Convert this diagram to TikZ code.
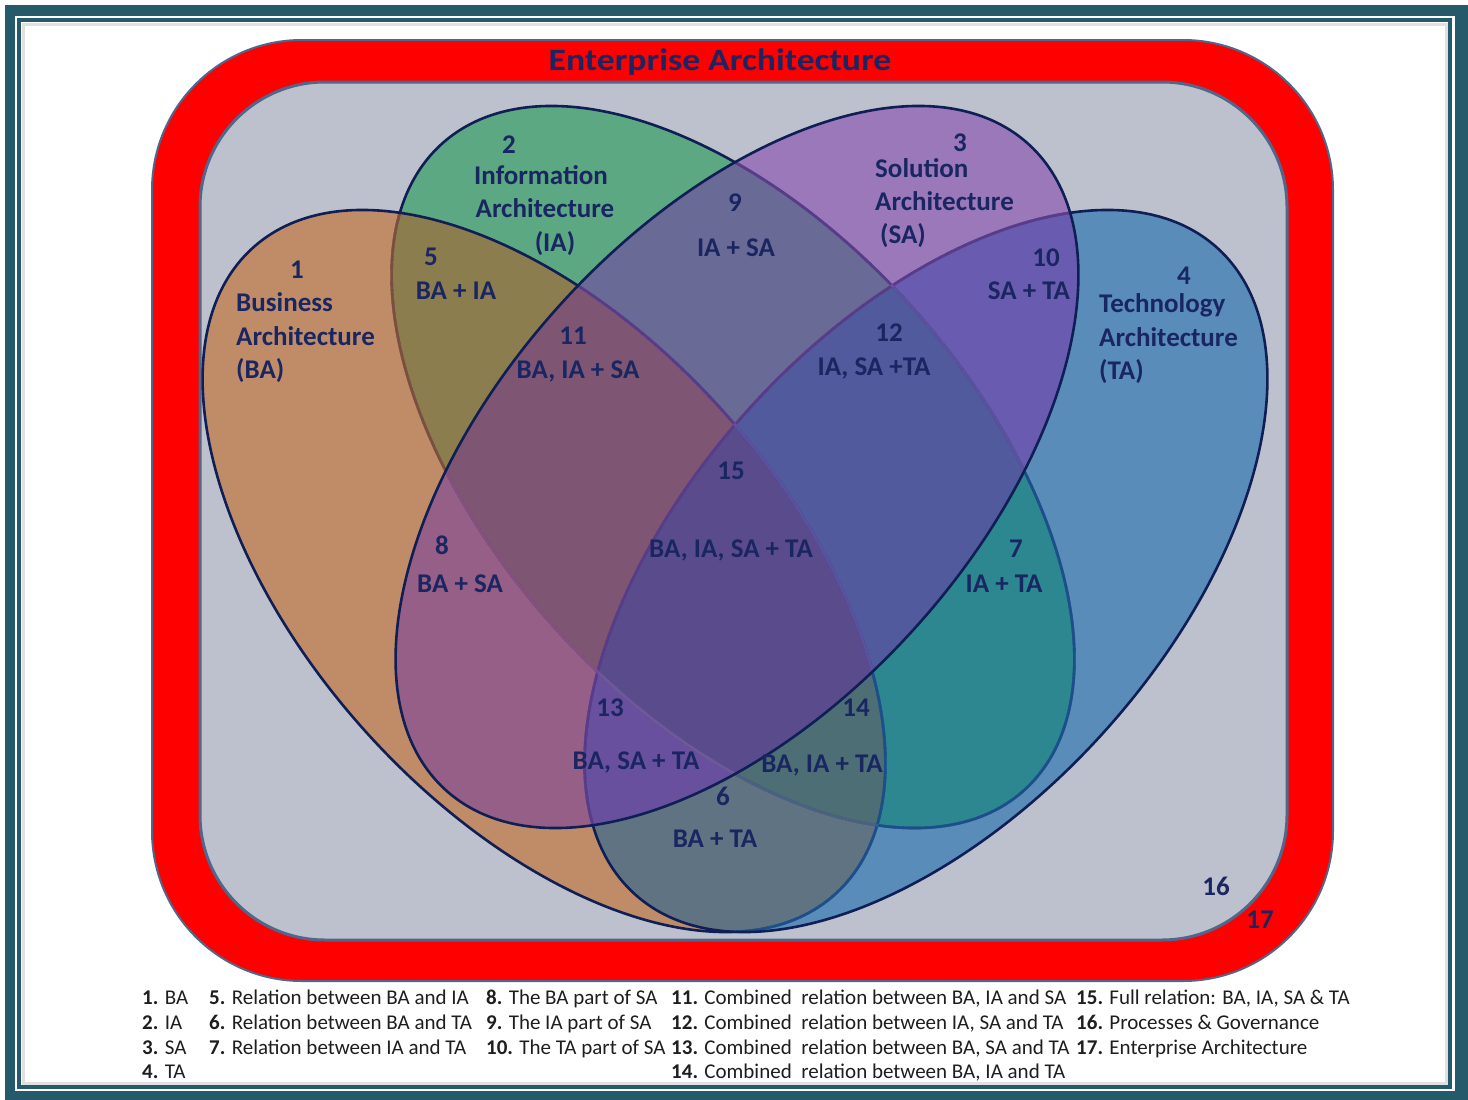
\documentclass[tikz,border=0pt]{standalone}
\usepackage{fontspec}
\setmainfont{Carlito}

\definecolor{frameteal}{RGB}{36,90,105}
\definecolor{bandred}{RGB}{255,0,0}
\definecolor{edgeblue}{RGB}{78,104,140}
\definecolor{panelgray}{RGB}{189,193,205}
\definecolor{labelnavy}{RGB}{26,38,98}
\definecolor{outline}{RGB}{16,30,86}
\definecolor{legtext}{RGB}{30,30,30}
% base hues used to tint the covered outline parts
\definecolor{hueBA}{RGB}{194,112,50}
\definecolor{hueTA}{RGB}{37,112,174}
\definecolor{hueSA}{RGB}{137,81,174}
% region colours: single sets
\definecolor{cBA}{RGB}{192,140,104}
\definecolor{cIA}{RGB}{92,168,130}
\definecolor{cTA}{RGB}{90,140,185}
\definecolor{cSA}{RGB}{155,120,185}
% pairs
\definecolor{cBAIA}{RGB}{140,125,78}
\definecolor{cBASA}{RGB}{150,95,135}
\definecolor{cBATA}{RGB}{95,115,130}
\definecolor{cIASA}{RGB}{106,106,150}
\definecolor{cIATA}{RGB}{45,135,145}
\definecolor{cSATA}{RGB}{105,92,176}
% triples and the full overlap
\definecolor{cBAIASA}{RGB}{126,86,116}
\definecolor{cIASATA}{RGB}{80,90,156}
\definecolor{cBASATA}{RGB}{104,80,158}
\definecolor{cBAIATA}{RGB}{76,110,116}
\definecolor{cALL}{RGB}{90,76,140}

\newcommand\ellpath{(0,0) ellipse [x radius=435pt, y radius=240pt]}

\begin{document}
\begin{tikzpicture}[x=1pt,y=-1pt,
  lb/.style={font=\fontsize{27}{34}\selectfont\bfseries, text=labelnavy, inner sep=0pt, anchor=base},
  lbw/.style={lb, anchor=base west},
  leg/.style={font=\fontsize{21}{25}\selectfont, text=legtext, inner sep=0pt, anchor=base west},
  eBA/.style={shift={(544,571)}, rotate=-48},
  eIA/.style={shift={(733,467)}, rotate=-48},
  eTA/.style={shift={(926,571)}, rotate=48},
  eSA/.style={shift={(737,467)}, rotate=48},
  rim/.style={draw=outline, line width=2.6pt},
  veil/.style={line width=2.8pt, draw opacity=0.6}
]
\useasboundingbox (0,0) rectangle (1468,1100);

% card with teal frame
\fill[white] (0,0) rectangle (1468,1100);
\fill[frameteal] (5,5) rectangle (1468,1100);
\fill[white] (15,16) rectangle (1455,1091);
\draw[frameteal, line width=3.5pt] (19,20) rectangle (1450,1087);
\draw[black!12, line width=3pt] (23,24) rectangle (1446,1083);

% enterprise band and process panel
\draw[fill=bandred, draw=edgeblue, line width=2pt, rounded corners=150pt] (152,40) rectangle (1333,981);
\draw[fill=panelgray, draw=edgeblue, line width=3pt, rounded corners=125pt] (200,82) rectangle (1287,940);

% ---- region fills: singles, then pairs, triples and the full overlap
\fill[eIA, cIA] \ellpath;
\fill[eBA, cBA] \ellpath;
\fill[eTA, cTA] \ellpath;
\fill[eSA, cSA] \ellpath;

\begin{scope}\clip[eBA] \ellpath; \fill[eIA, cBAIA] \ellpath; \end{scope}
\begin{scope}\clip[eBA] \ellpath; \fill[eSA, cBASA] \ellpath; \end{scope}
\begin{scope}\clip[eBA] \ellpath; \fill[eTA, cBATA] \ellpath; \end{scope}
\begin{scope}\clip[eIA] \ellpath; \fill[eSA, cIASA] \ellpath; \end{scope}
\begin{scope}\clip[eIA] \ellpath; \fill[eTA, cIATA] \ellpath; \end{scope}
\begin{scope}\clip[eSA] \ellpath; \fill[eTA, cSATA] \ellpath; \end{scope}

\begin{scope}\clip[eBA] \ellpath; \clip[eIA] \ellpath; \fill[eSA, cBAIASA] \ellpath; \end{scope}
\begin{scope}\clip[eIA] \ellpath; \clip[eSA] \ellpath; \fill[eTA, cIASATA] \ellpath; \end{scope}
\begin{scope}\clip[eBA] \ellpath; \clip[eSA] \ellpath; \fill[eTA, cBASATA] \ellpath; \end{scope}
\begin{scope}\clip[eBA] \ellpath; \clip[eIA] \ellpath; \fill[eTA, cBAIATA] \ellpath; \end{scope}

\begin{scope}\clip[eBA] \ellpath; \clip[eIA] \ellpath; \clip[eSA] \ellpath; \fill[eTA, cALL] \ellpath; \end{scope}

% ---- outlines; parts lying under a later set are tinted by it
\draw[eIA, rim] \ellpath;
\begin{scope}\clip[eBA] \ellpath; \draw[eIA, veil, hueBA] \ellpath; \end{scope}
\draw[eBA, rim] \ellpath;
\begin{scope}\clip[eTA] \ellpath; \draw[eIA, veil, hueTA] \ellpath; \draw[eBA, veil, hueTA] \ellpath; \end{scope}
\draw[eTA, rim] \ellpath;
\begin{scope}\clip[eSA] \ellpath; \draw[eIA, veil, hueSA] \ellpath; \draw[eBA, veil, hueSA] \ellpath; \draw[eTA, veil, hueSA] \ellpath; \end{scope}
\draw[eSA, rim] \ellpath;

% title
\node[font=\fontsize{31}{36}\selectfont\bfseries, text=labelnavy, inner sep=0pt, anchor=base] (title) at (720,70) {\scalebox{1.15}[1]{Enterprise Architecture}};

% region labels
\node[lb] (r1) at (297,278) {1};
\node[lbw] (r1a) at (236,311) {Business};
\node[lbw] (r1b) at (236,345) {Architecture};
\node[lbw] (r1c) at (236,378) {(BA)};

\node[lb] (r2) at (509,153) {2};
\node[lb] (r2a) at (541,184) {Information};
\node[lb] (r2b) at (545,217) {Architecture};
\node[lb] (r2c) at (555,251) {(IA)};

\node[lb] (r3) at (960,151) {3};
\node[lbw] (r3a) at (875,177) {Solution};
\node[lbw] (r3b) at (875,210) {Architecture};
\node[lbw] (r3c) at (880,243) {(SA)};

\node[lb] (r4) at (1184,284) {4};
\node[lbw] (r4a) at (1099,312) {Technology};
\node[lbw] (r4b) at (1099,346) {Architecture};
\node[lbw] (r4c) at (1099,379) {(TA)};

\node[lb] (r5) at (431,265) {5};
\node[lb] (r5a) at (456,299) {BA + IA};
\node[lb] (r9) at (735,211) {9};
\node[lb] (r9a) at (736,256) {IA + SA};
\node[lb] (r10) at (1046,266) {10};
\node[lb] (r10a) at (1029,299) {SA + TA};
\node[lb] (r11) at (573,344) {11};
\node[lb] (r11a) at (578,378) {BA, IA + SA};
\node[lb] (r12) at (889,341) {12};
\node[lb] (r12a) at (874,375) {IA, SA +TA};
\node[lb] (r15) at (731,479) {15};
\node[lb] (r15a) at (731,557) {BA, IA, SA + TA};
\node[lb] (r8) at (442,554) {8};
\node[lb] (r8a) at (460,592) {BA + SA};
\node[lb] (r7) at (1016,557) {7};
\node[lb] (r7a) at (1004,592) {IA + TA};
\node[lb] (r13) at (610,716) {13};
\node[lb] (r13a) at (636,769) {BA, SA + TA};
\node[lb] (r14) at (856,716) {14};
\node[lb] (r14a) at (822,772) {BA, IA + TA};
\node[lb] (r6) at (723,805) {6};
\node[lb] (r6a) at (715,847) {BA + TA};
\node[lb] (r16) at (1216,895) {16};
\node[lb] (r17) at (1260,928) {17};

% legend
\node[leg] (l1) at (142,1004) {\textbf{1.} BA};
\node[leg] (l2) at (142,1029) {\textbf{2.} IA};
\node[leg] (l3) at (142,1054) {\textbf{3.} SA};
\node[leg] (l4) at (142,1078) {\textbf{4.} TA};
\node[leg] (l5) at (209,1004) {\textbf{5.} Relation between BA and IA};
\node[leg] (l6) at (209,1029) {\textbf{6.} Relation between BA and TA};
\node[leg] (l7) at (209,1054) {\textbf{7.} Relation between IA and TA};
\node[leg] (l8) at (486,1004) {\textbf{8.} The BA part of SA};
\node[leg] (l9) at (486,1029) {\textbf{9.} The IA part of SA};
\node[leg] (l10) at (486,1054) {\textbf{10.} The TA part of SA};
\node[leg] (l11) at (671,1004) {\textbf{11.} Combined\ \ relation between BA, IA and SA};
\node[leg] (l12) at (671,1029) {\textbf{12.} Combined\ \ relation between IA, SA and TA};
\node[leg] (l13) at (671,1054) {\textbf{13.} Combined\ \ relation between BA, SA and TA};
\node[leg] (l14) at (671,1078) {\textbf{14.} Combined\ \ relation between BA, IA and TA};
\node[leg] (l15) at (1076,1004) {\textbf{15.} Full relation: BA, IA, SA \& TA};
\node[leg] (l16) at (1076,1029) {\textbf{16.} Processes \& Governance};
\node[leg] (l17) at (1076,1054) {\textbf{17.} Enterprise Architecture};
\end{tikzpicture}
\end{document}
